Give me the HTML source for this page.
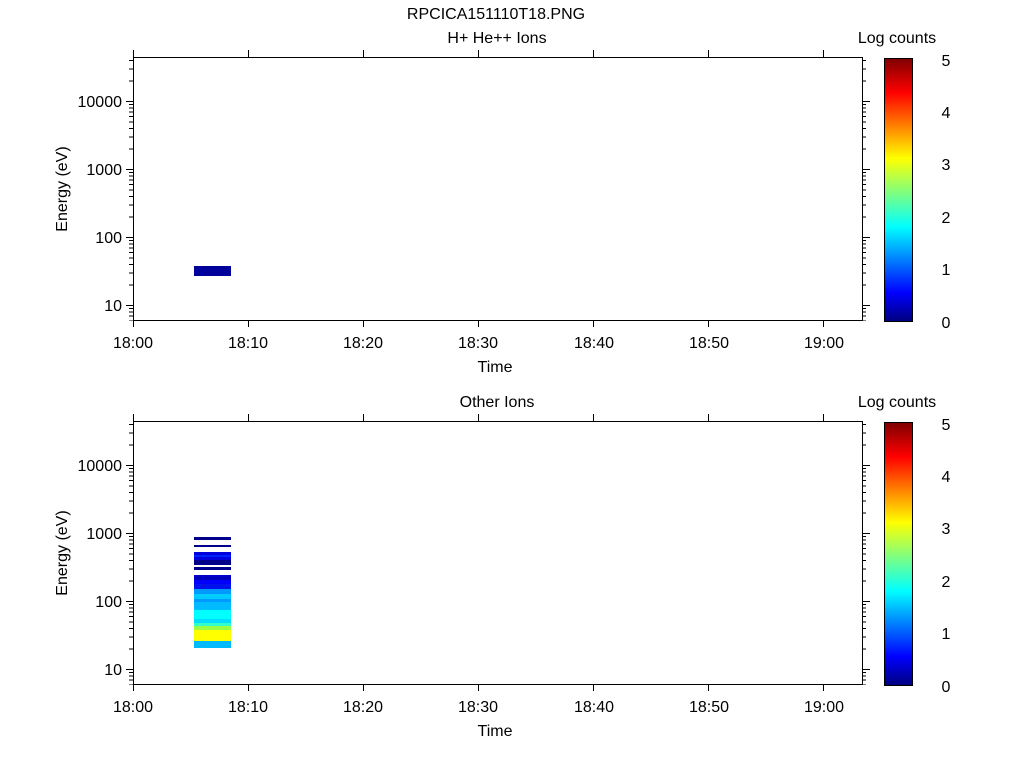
<!DOCTYPE html>
<html><head><meta charset="utf-8"><style>
body{margin:0;background:#fff;}
svg{display:block;font-family:"Liberation Sans",sans-serif;}
text{font-size:16px;fill:#000;}
</style></head><body>
<svg width="1024" height="768" viewBox="0 0 1024 768" xmlns="http://www.w3.org/2000/svg">
<defs>
<linearGradient id="jet" x1="0" y1="1" x2="0" y2="0">
<stop offset="0" stop-color="#00007f"/>
<stop offset="0.11" stop-color="#0000ff"/>
<stop offset="0.36" stop-color="#00ffff"/>
<stop offset="0.62" stop-color="#ffff00"/>
<stop offset="0.87" stop-color="#ff0000"/>
<stop offset="1" stop-color="#7f0000"/>
</linearGradient>
<clipPath id="cl"><rect x="100" y="56.5" width="800" height="264"/></clipPath>
<g id="dec" stroke="#000" stroke-width="1">
<path d="M126 0.5H133M129 -20H133M129 -32H133M129 -40.5H133M129 -47H133M129 -52.5H133M129 -57H133M129 -61H133M129 -64.5H133"/>
<path d="M862 0.5H870M862 -20H866M862 -32H866M862 -40.5H866M862 -47H866M862 -52.5H866M862 -57H866M862 -61H866M862 -64.5H866"/>
</g>
<g id="panel">
<rect x="133.5" y="57.5" width="729" height="263" fill="none" stroke="#000"/>
<g clip-path="url(#cl)">
<use href="#dec" y="373"/><use href="#dec" y="305"/><use href="#dec" y="237"/><use href="#dec" y="169"/><use href="#dec" y="101"/><use href="#dec" y="33"/>
</g>
<path stroke="#000" d="M133.5 320V327M248.5 320V327M363.5 320V327M478.5 320V327M593.5 320V327M708.5 320V327M823.5 320V327M133.5 57V50M248.5 57V50M363.5 57V50M478.5 57V50M593.5 57V50M708.5 57V50M823.5 57V50"/>
<text x="122" y="311" text-anchor="end">10</text>
<text x="122" y="243" text-anchor="end">100</text>
<text x="122" y="175" text-anchor="end">1000</text>
<text x="122" y="107" text-anchor="end">10000</text>
<text x="133" y="348" text-anchor="middle">18:00</text>
<text x="248" y="348" text-anchor="middle">18:10</text>
<text x="363" y="348" text-anchor="middle">18:20</text>
<text x="478" y="348" text-anchor="middle">18:30</text>
<text x="594" y="348" text-anchor="middle">18:40</text>
<text x="709" y="348" text-anchor="middle">18:50</text>
<text x="824" y="348" text-anchor="middle">19:00</text>
<text x="495" y="372" text-anchor="middle">Time</text>
<text transform="translate(67,189) rotate(-90)" text-anchor="middle">Energy (eV)</text>
<rect x="884.5" y="58.5" width="28" height="263" fill="url(#jet)" stroke="#000"/>
<text x="946" y="328" text-anchor="middle">0</text>
<text x="946" y="275" text-anchor="middle">1</text>
<text x="946" y="223" text-anchor="middle">2</text>
<text x="946" y="170" text-anchor="middle">3</text>
<text x="946" y="118" text-anchor="middle">4</text>
<text x="946" y="66" text-anchor="middle">5</text>
<text x="897" y="43" text-anchor="middle">Log counts</text>
</g>
</defs>
<text x="496" y="19" text-anchor="middle">RPCICA151110T18.PNG</text>
<text x="497" y="43" text-anchor="middle">H+ He++ Ions</text>
<text x="497" y="407" text-anchor="middle">Other Ions</text>
<use href="#panel"/>
<use href="#panel" y="364"/>
<rect x="194" y="266" width="37" height="10" fill="#00009a"/>
<g>
<rect x="194" y="537" width="37" height="3" fill="#00008b"/>
<rect x="194" y="545" width="37" height="2" fill="#00008b"/>
<rect x="194" y="552" width="37" height="3" fill="#0000dd"/>
<rect x="194" y="555" width="37" height="2" fill="#0022ff"/>
<rect x="194" y="557" width="37" height="3" fill="#0000dd"/>
<rect x="194" y="560" width="37" height="5" fill="#00008b"/>
<rect x="194" y="567" width="37" height="3" fill="#00008b"/>
<rect x="194" y="575" width="37" height="2" fill="#0000cc"/>
<rect x="194" y="577" width="37" height="3" fill="#0000bb"/>
<rect x="194" y="580" width="37" height="4" fill="#0000ff"/>
<rect x="194" y="584" width="37" height="5" fill="#0011ee"/>
<rect x="194" y="589" width="37" height="5" fill="#0099ff"/>
<rect x="194" y="594" width="37" height="5" fill="#00ccff"/>
<rect x="194" y="599" width="37" height="3" fill="#0099ff"/>
<rect x="194" y="602" width="37" height="8" fill="#00bbff"/>
<rect x="194" y="610" width="37" height="9" fill="#00ffff"/>
<rect x="194" y="619" width="37" height="4" fill="#00ddff"/>
<rect x="194" y="623" width="37" height="3" fill="#33ffcc"/>
<rect x="194" y="626" width="37" height="4" fill="#99ff44"/>
<rect x="194" y="630" width="37" height="11" fill="#ffff00"/>
<rect x="194" y="641" width="37" height="7" fill="#00bbff"/>
</g>
</svg>
</body></html>
